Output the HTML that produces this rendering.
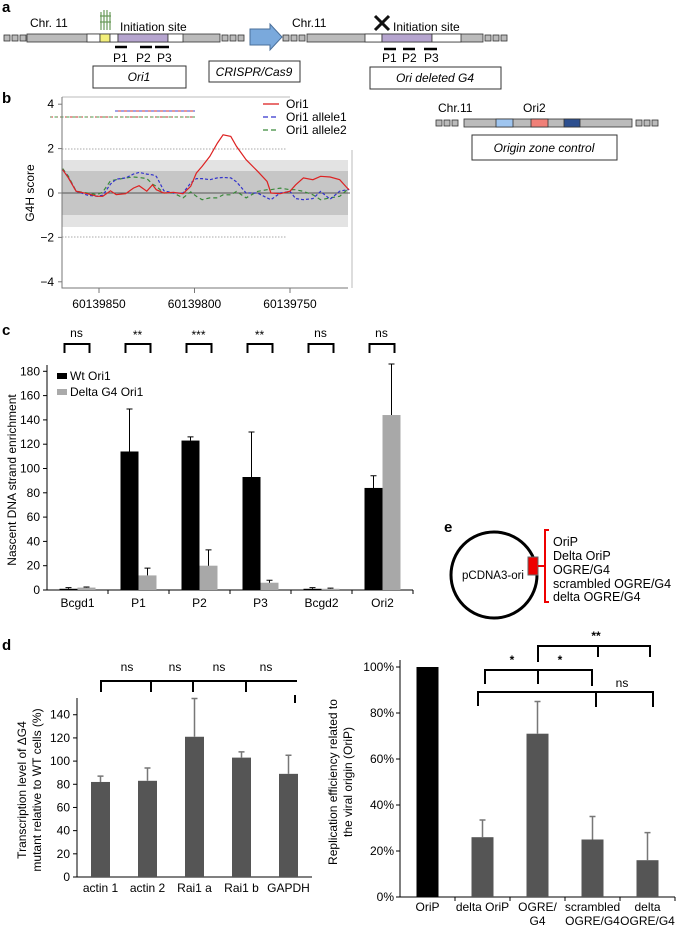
<!DOCTYPE html>
<html><head><meta charset="utf-8"><style>
body{margin:0;background:#fff}
svg{display:block;font-family:"Liberation Sans",sans-serif}
</style></head><body>
<svg id="fig" width="676" height="926" viewBox="0 0 676 926">
<!-- panel a -->
<g font-size="12">
<text x="2" y="12" font-weight="bold" font-size="15">a</text>
<g stroke="#333" stroke-width="0.8" fill="#bbb">
<rect x="4" y="35" width="6" height="6"/><rect x="12" y="35" width="6" height="6"/><rect x="20" y="35" width="6" height="6"/>
<rect x="27" y="34" width="193" height="8"/>
<rect x="87" y="34" width="13" height="8" fill="#fff"/><rect x="100" y="34" width="10" height="8" fill="#f3ef7a"/><rect x="110" y="34" width="8" height="8" fill="#fff"/>
<rect x="118" y="34" width="50" height="8" fill="#b6a5cf"/><rect x="168" y="34" width="15" height="8" fill="#fff"/>
<rect x="222" y="35" width="6" height="6"/><rect x="230" y="35" width="6" height="6"/><rect x="238" y="35" width="6" height="6"/>
<rect x="283" y="35" width="6" height="6"/><rect x="291" y="35" width="6" height="6"/><rect x="299" y="35" width="6" height="6"/>
<rect x="307" y="34" width="176" height="8"/>
<rect x="365" y="34" width="17" height="8" fill="#fff"/><rect x="382" y="34" width="50" height="8" fill="#b6a5cf"/><rect x="432" y="34" width="29" height="8" fill="#fff"/>
<rect x="485" y="35" width="6" height="6"/><rect x="493" y="35" width="6" height="6"/><rect x="501" y="35" width="6" height="6"/>
</g>
<g stroke="#6a9a5a" stroke-width="1.2" fill="none"><path d="M101 30 V12 M104 30 V10 M107 30 V10 M110 30 V12 M100 16 H111 M100 22 H111"/></g>
<text x="30" y="27">Chr. 11</text>
<text x="120" y="31">Initiation site</text>
<g stroke="#000" stroke-width="2.5"><path d="M115 47 H127 M140 47 H152 M155 47 H169 M384 49 H396 M403 49 H415 M424 49 H437"/></g>
<text x="113" y="62">P1</text><text x="136" y="62">P2</text><text x="157" y="62">P3</text>
<rect x="93" y="66" width="93" height="22" fill="#fff" stroke="#333"/>
<text x="139" y="81" text-anchor="middle" font-style="italic">Ori1</text>
<path d="M250 29 H270 V24 L282 37 L270 50 V45 H250 Z" fill="#7aa9dc" stroke="#4a6f9a"/>
<rect x="209" y="61" width="91" height="21" fill="#fff" stroke="#333"/>
<text x="254" y="76" text-anchor="middle" font-style="italic">CRISPR/Cas9</text>
<text x="292" y="27">Chr.11</text>
<path d="M375 16 L389 30 M389 16 L375 30" stroke="#111" stroke-width="3"/>
<text x="393" y="31">Initiation site</text>
<text x="382" y="62">P1</text><text x="402" y="62">P2</text><text x="424" y="62">P3</text>
<rect x="370" y="67" width="131" height="22" fill="#fff" stroke="#333"/>
<text x="435" y="82" text-anchor="middle" font-style="italic">Ori deleted G4</text>
</g>
<!-- origin zone control -->
<g font-size="12">
<text x="438" y="112">Chr.11</text>
<text x="523" y="112">Ori2</text>
<g stroke="#333" stroke-width="0.8" fill="#bbb">
<rect x="436" y="120" width="6" height="6"/><rect x="444" y="120" width="6" height="6"/><rect x="452" y="120" width="6" height="6"/>
<rect x="464" y="119" width="168" height="8"/>
<rect x="496" y="119" width="17" height="8" fill="#9fc5ef"/><rect x="531" y="119" width="17" height="8" fill="#f08078"/><rect x="564" y="119" width="16" height="8" fill="#2d4f8f"/>
<rect x="636" y="120" width="6" height="6"/><rect x="644" y="120" width="6" height="6"/><rect x="652" y="120" width="6" height="6"/>
</g>
<rect x="472" y="135" width="145" height="25" fill="#fff" stroke="#333"/>
<text x="544" y="152" text-anchor="middle" font-style="italic">Origin zone control</text>
</g>
<!-- panel b static -->
<g font-size="12">
<text x="2" y="103" font-weight="bold" font-size="15">b</text>
<rect x="62" y="160" width="286" height="67" fill="#e3e3e3"/>
<rect x="62" y="171" width="286" height="44" fill="#c6c6c6"/>
<path d="M62 149 H287 M62 237 H287" stroke="#aaa" stroke-dasharray="1.5,1.5"/>
<path d="M62 193 H350" stroke="#555"/>
<path d="M62 97 H290 M352 150 V288" stroke="#bbb"/>
<text transform="translate(34,193) rotate(-90)" text-anchor="middle">G4H score</text>
<path d="M50 117 H195" stroke="#c33" stroke-dasharray="3,2"/>
<path d="M50 117 H195" stroke="#4a9a4a" stroke-dasharray="3,3" stroke-dashoffset="1.5"/>
<path d="M115 111 H195" stroke="#c33"/>
<path d="M115 111 H195" stroke="#4444cc" stroke-dasharray="3,3"/>
<g>
<path d="M263 104 H279" stroke="#d22" stroke-width="1.3"/><text x="286" y="108">Ori1</text>
<path d="M263 117 H279" stroke="#3333cc" stroke-width="1.3" stroke-dasharray="5,3"/><text x="286" y="121">Ori1 allele1</text>
<path d="M263 130 H279" stroke="#3a8a3a" stroke-width="1.3" stroke-dasharray="5,3"/><text x="286" y="134">Ori1 allele2</text>
</g>
</g>
<!-- panel c static -->
<g font-size="12">
<text x="2" y="335" font-weight="bold" font-size="15">c</text>
<text transform="translate(16,480) rotate(-90)" text-anchor="middle">Nascent DNA strand enrichment</text>
<rect x="57" y="373" width="10" height="6" fill="#000"/>
<text x="70" y="380">Wt Ori1</text>
<rect x="57" y="389" width="10" height="6" fill="#aaa"/>
<text x="70" y="396">Delta G4 Ori1</text>
</g>
<!-- panel e -->
<g font-size="12">
<text x="444" y="532" font-weight="bold" font-size="15">e</text>
<circle cx="494" cy="575" r="43" fill="none" stroke="#000" stroke-width="3"/>
<text x="462" y="579" font-size="11.5">pCDNA3-ori</text>
<rect x="528" y="557" width="10" height="18" fill="#e00" stroke="#666"/>
<path d="M538 566 H545 M549 530 H545 V602 H549" fill="none" stroke="#e00" stroke-width="2"/>
<g font-size="12.5">
<text x="553" y="546">OriP</text><text x="553" y="560">Delta OriP</text><text x="553" y="574">OGRE/G4</text><text x="553" y="588">scrambled OGRE/G4</text><text x="553" y="601">delta OGRE/G4</text>
</g>
</g>
<!-- panel d -->
<g font-size="12">
<text x="2" y="650" font-weight="bold" font-size="15">d</text>
<text transform="translate(26,790) rotate(-90)" text-anchor="middle">Transcription level of ΔG4</text>
<text transform="translate(41,790) rotate(-90)" text-anchor="middle">mutant relative to WT cells (%)</text>
<path d="M101 692 V681 H297 M151 681 V692 M193 681 V692 M246 681 V692 M295 695 V703" fill="none" stroke="#000" stroke-width="2"/>
<text x="127" y="671" text-anchor="middle">ns</text><text x="175" y="671" text-anchor="middle">ns</text><text x="219" y="671" text-anchor="middle">ns</text><text x="266" y="671" text-anchor="middle">ns</text>
<text transform="translate(337,782) rotate(-90)" text-anchor="middle">Replication efficiency related to</text>
<text transform="translate(352,782) rotate(-90)" text-anchor="middle">the viral origin (OriP)</text>
<path d="M538 662 V646 H650 V657 M598 646 V657 M485 684 V670 H592 V686 M538 670 V684 M478 706 V692 H653 V707 M596 692 V707" fill="none" stroke="#000" stroke-width="2"/>
<text x="512" y="664" text-anchor="middle" font-weight="bold">*</text><text x="560" y="664" text-anchor="middle" font-weight="bold">*</text><text x="596" y="640" text-anchor="middle" font-weight="bold">**</text><text x="622" y="687" text-anchor="middle">ns</text>
</g>
<g id="dyn"></g>
</svg>
<script>
// ---- panel b data ----
const bPos=[60139869,60139866,60139862,60139856,60139851,60139848,60139844,60139841,60139836,60139832,60139829,60139825,60139822,60139820,60139816,60139811,60139806,60139802,60139799,60139796,60139792,60139788,60139785,60139781,60139778,60139773,60139767,60139762,60139760,60139755,60139750,60139747,60139743,60139738,60139734,60139729,60139724,60139720,60139719];
const bRed=[1.05,0.68,0.08,-0.03,-0.15,-0.15,0.1,-0.07,-0.03,0.22,0.33,0.08,0.37,0.15,0.0,0.03,-0.03,0.3,0.9,1.2,1.65,2.25,2.62,2.55,2.1,1.5,0.98,0.52,0.0,-0.03,0.08,0.37,0.68,0.6,0.75,0.72,0.6,0.22,0.15];
const bBlue=[1.05,0.7,0.08,-0.1,-0.15,-0.1,0.4,0.62,0.68,0.85,0.93,0.85,0.82,0.75,0.1,0.0,0.0,0.45,0.65,0.65,0.6,0.68,0.7,0.68,0.5,0.0,0.0,-0.22,-0.3,0.0,0.07,-0.25,-0.3,-0.25,0.07,-0.28,0.08,0.15,0.15];
const bGreen=[1.1,0.75,0.08,0.0,-0.08,0.05,0.55,0.6,0.68,0.72,0.7,0.65,0.4,0.3,0.0,0.0,-0.22,0.05,-0.15,-0.3,-0.22,-0.22,-0.08,-0.08,0.07,-0.22,0.07,0.15,0.15,0.22,0.15,0.15,0.07,-0.08,-0.3,-0.22,-0.15,0.15,0.15];
const bYTicks=[-4,-2,0,2,4];
const bXTicks=[60139850,60139800,60139750];
// ---- panel c data ----
const cCats=["Bcgd1","P1","P2","P3","Bcgd2","Ori2"];
const cWt=[1,114,123,93,1,84];
const cWtErr=[1,35,3,37,1,10];
const cDelta=[2,12,20,6,1,144];
const cDeltaErr=[0.5,6,13,2,0.5,42];
const cSig=["ns","**","***","**","ns","ns"];
const cTicks=[0,20,40,60,80,100,120,140,160,180];
// ---- panel d1 data ----
const d1Cats=["actin 1","actin 2","Rai1 a","Rai1 b","GAPDH"];
const d1Vals=[82,83,121,103,89];
const d1Err=[5,11,33,5,16];
const d1Ticks=[0,20,40,60,80,100,120,140];
// ---- panel d2 data ----
const d2Cats=[["OriP"],["delta OriP"],["OGRE/","G4"],["scrambled","OGRE/G4"],["delta","OGRE/G4"]];
const d2Vals=[100,26,71,25,16];
const d2Err=[0,7.5,14,10,12];
const d2Ticks=[0,20,40,60,80,100];

const NS="http://www.w3.org/2000/svg";
const root=document.getElementById("dyn");
function mk(tag,attrs,txt){const e=document.createElementNS(NS,tag);for(const k in attrs)e.setAttribute(k,attrs[k]);if(txt!==undefined)e.textContent=txt;root.appendChild(e);return e;}

// panel b
const xB=g=>99+(60139850-g)*1.91, yB=v=>193-v*22.2;
let el;
el=mk("path",{d:"M62 97 V288 H348",fill:"none",stroke:"#777"});


bYTicks.forEach(t=>{
  el=mk("path",{d:`M58 ${yB(t)} H62`,stroke:"#777"});
  
  
  el=mk("text",{x:54,y:yB(t)+4,"text-anchor":"end","font-size":12},t<0?"\u2212"+(-t):String(t));
  
  
});
bXTicks.forEach(t=>{
  el=mk("path",{d:`M${xB(t)} 288 V293`,stroke:"#777"});
  
  
  el=mk("text",{x:xB(t),y:308,"text-anchor":"middle","font-size":12},String(t));
  
  
});
function line(vals,color,dash,name){
  const d=vals.map((v,i)=>(i?"L":"M")+xB(bPos[i]).toFixed(1)+" "+yB(v).toFixed(1)).join(" ");
  const p=mk("path",{d:d,fill:"none",stroke:color,"stroke-width":1.2,"stroke-dasharray":dash});
  
  
}
line(bGreen,"#3a8a3a","4,3","line-ori1-allele2");
line(bBlue,"#3333cc","3,2","line-ori1-allele1");
line(bRed,"#d22","none","line-ori1");

// panel c
const yC=v=>590-v*1.215, cxC=i=>47+61*(i+0.5);
el=mk("path",{d:"M47 365 V590 H413",fill:"none",stroke:"#000"});


cTicks.forEach(t=>{
  el=mk("path",{d:`M43 ${yC(t)} H47`,stroke:"#000"});
  
  
  el=mk("text",{x:40,y:yC(t)+4,"text-anchor":"end","font-size":12},String(t));
  
  
});
cCats.forEach((c,i)=>{
  const cx=cxC(i);
  el=mk("path",{d:`M${47+61*(i+1)} 590 V594`,stroke:"#000"});
  
  
  el=mk("text",{x:cx,y:607,"text-anchor":"middle","font-size":12},c);
  
  
  el=mk("rect",{x:cx-18,y:yC(cWt[i]),width:18,height:590-yC(cWt[i]),fill:"#000"});
  
  
  el=mk("rect",{x:cx,y:yC(cDelta[i]),width:18,height:590-yC(cDelta[i]),fill:"#a8a8a8"});
  
  
  el=mk("path",{d:`M${cx-9} ${yC(cWt[i])} V${yC(cWt[i]+cWtErr[i])} M${cx-12} ${yC(cWt[i]+cWtErr[i])} H${cx-6}`,stroke:"#000"});
  
  
  el=mk("path",{d:`M${cx+9} ${yC(cDelta[i])} V${yC(cDelta[i]+cDeltaErr[i])} M${cx+6} ${yC(cDelta[i]+cDeltaErr[i])} H${cx+12}`,stroke:"#000"});
  
  
  el=mk("path",{d:`M${cx-13} 353 V344 H${cx+12} V353`,fill:"none",stroke:"#000","stroke-width":2});
  
  
  el=mk("text",{x:cx-1,y:cSig[i]==="ns"?337:339,"text-anchor":"middle","font-size":12},cSig[i]);
  
  
});

// panel d1
const yD=v=>877-v*1.159, cxD=i=>77+47*(i+0.5);
el=mk("path",{d:"M77 698 V877 H312",fill:"none",stroke:"#000"});


d1Ticks.forEach(t=>{
  el=mk("path",{d:`M73 ${yD(t)} H77`,stroke:"#000"});
  
  
  el=mk("text",{x:70,y:yD(t)+4,"text-anchor":"end","font-size":12},String(t));
  
  
});
d1Cats.forEach((c,i)=>{
  const cx=cxD(i);
  el=mk("rect",{x:cx-9.5,y:yD(d1Vals[i]),width:19,height:877-yD(d1Vals[i]),fill:"#555"});
  
  
  el=mk("path",{d:`M${cx} ${yD(d1Vals[i])} V${yD(d1Vals[i]+d1Err[i])} M${cx-3} ${yD(d1Vals[i]+d1Err[i])} H${cx+3}`,stroke:"#777","stroke-width":1.5});
  
  
  el=mk("text",{x:cx,y:892,"text-anchor":"middle","font-size":12},c);
  
  
});

// panel d2
const yE=v=>897-v*2.3, cxE=i=>400+55*(i+0.5);
el=mk("path",{d:"M400 660 V897 H675",fill:"none",stroke:"#000"});


d2Ticks.forEach(t=>{
  el=mk("path",{d:`M396 ${yE(t)} H400`,stroke:"#000"});
  
  
  el=mk("text",{x:394,y:yE(t)+4,"text-anchor":"end","font-size":12},t+"%");
  
  
});
d2Cats.forEach((c,i)=>{
  const cx=cxE(i);
  el=mk("path",{d:`M${400+55*(i+1)} 897 V901`,stroke:"#000"});
  
  
  el=mk("rect",{x:cx-11,y:yE(d2Vals[i]),width:22,height:897-yE(d2Vals[i]),fill:i===0?"#000":"#555"});
  
  
  if(d2Err[i]>0){
    el=mk("path",{d:`M${cx} ${yE(d2Vals[i])} V${yE(d2Vals[i]+d2Err[i])} M${cx-3} ${yE(d2Vals[i]+d2Err[i])} H${cx+3}`,stroke:"#777","stroke-width":1.5});
    
    
  }
  c.forEach((ln,j)=>{
    el=mk("text",{x:cx,y:911+j*14,"text-anchor":"middle","font-size":12},ln);
    
    
  });
});
</script>
</body></html>
